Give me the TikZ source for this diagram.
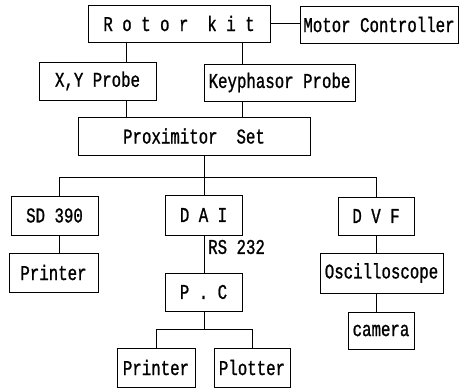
\documentclass[tikz,border=0pt]{standalone}
\usepackage{fontspec}
\newfontfamily\boxfont[FakeStretch=0.75,FakeBold=1]{Liberation Mono}
\begin{document}
\begin{tikzpicture}[x=1pt,y=-1pt,
  txt/.style={font=\boxfont\fontsize{21}{21}\selectfont},
  box/.style={txt,draw,line width=0.9pt,inner sep=0pt},
  link/.style={line width=0.9pt}]
\useasboundingbox (0,0) rectangle (460,391);
\node[box,minimum width=182,minimum height=37] (rotor) at (179,23.5) {R o t o r\ \ k i t};
\node[box,minimum width=158,minimum height=37] (motor) at (379,24.5) {Motor Controller};
\node[box,minimum width=117,minimum height=38] (xy) at (97.5,81) {X,Y Probe};
\node[box,minimum width=151,minimum height=37] (key) at (279.5,82.5) {Keyphasor Probe};
\node[box,minimum width=232,minimum height=38] (prox) at (194,136) {Proximitor\ \ Set};
\node[box,minimum width=87,minimum height=39] (sd) at (54.5,215.5) {SD 390};
\node[box,minimum width=77,minimum height=40] (dai) at (203.5,215) {D A I};
\node[box,minimum width=76,minimum height=38] (dvf) at (376,216) {D V F};
\node[box,minimum width=89,minimum height=39] (pr1) at (53.5,272.5) {Printer};
\node[box,minimum width=77,minimum height=38] (pc) at (203.5,292) {P . C};
\node[box,minimum width=123,minimum height=40] (osc) at (381.5,273) {Oscilloscope};
\node[box,minimum width=66,minimum height=37] (cam) at (381,330.5) {camera};
\node[box,minimum width=78,minimum height=39] (pr2) at (156,367.5) {Printer};
\node[box,minimum width=76,minimum height=39] (plot) at (252,367.5) {Plotter};
\node[txt,anchor=west,inner sep=0pt] (rs) at (208,247) {RS 232};
% coordinates
\coordinate (cx) at (126,0);
\coordinate (ck) at (242,0);
\coordinate (bus) at (204,177);
\coordinate (cs) at (59,0);
\coordinate (cd) at (376,0);
\coordinate (bus2) at (204,329);
% connectors
\draw[link] (rotor.east) -- (rotor.east -| motor.west);
\draw[link] (cx |- rotor.south) -- (cx |- xy.north);
\draw[link] (cx |- xy.south) -- (cx |- prox.north);
\draw[link] (ck |- rotor.south) -- (ck |- key.north);
\draw[link] (ck |- key.south) -- (ck |- prox.north);
\draw[link] (bus |- prox.south) -- (bus);
\draw[link] (cs |- bus) -- (cd |- bus);
\draw[link] (cs |- bus) -- (cs |- sd.north);
\draw[link] (bus) -- (bus |- dai.north);
\draw[link] (cd |- bus) -- (cd |- dvf.north);
\draw[link] (cs |- sd.south) -- (cs |- pr1.north);
\draw[link] (bus |- dai.south) -- (bus |- pc.north);
\draw[link] (cd |- dvf.south) -- (cd |- osc.north);
\draw[link] (cd |- osc.south) -- (cd |- cam.north);
\draw[link] (bus |- pc.south) -- (bus2);
\draw[link] (pr2.north |- bus2) -- (plot.north |- bus2);
\draw[link] (pr2.north |- bus2) -- (pr2.north);
\draw[link] (plot.north |- bus2) -- (plot.north);
\end{tikzpicture}
\end{document}
